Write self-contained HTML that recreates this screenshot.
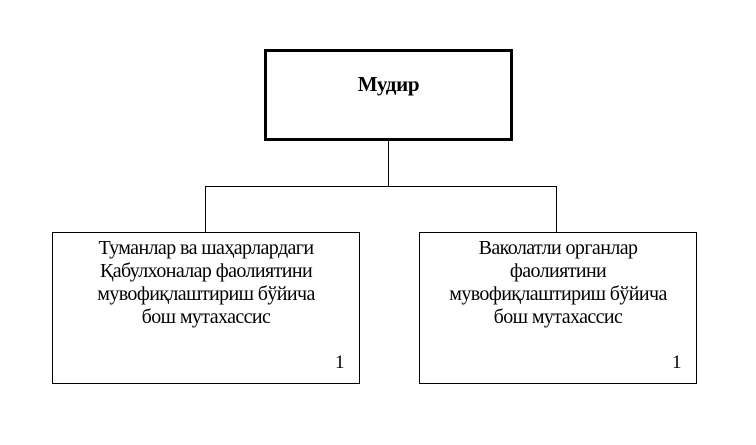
<!DOCTYPE html>
<html><head><style>
body{margin:0;width:756px;height:445px;background:#fff;position:relative;font-family:"Liberation Serif",serif;color:#000;overflow:hidden}
.b{position:absolute;box-sizing:border-box;border:1px solid #000;background:#fff}
.l{position:absolute;background:#000}
.t{position:absolute;text-align:center;font-size:20px;line-height:23px;letter-spacing:-0.6px;white-space:nowrap}
.n{position:absolute;font-size:19px}
</style></head><body>
<div class="b" style="left:264px;top:49px;width:249px;height:92px;border:3px solid #000"></div>
<div class="t" style="left:264px;top:73px;width:249px;font-weight:bold;font-size:21px;letter-spacing:-0.3px">Мудир</div>
<div class="l" style="left:388px;top:141px;width:1px;height:46px"></div>
<div class="l" style="left:205px;top:186px;width:352px;height:1px"></div>
<div class="l" style="left:205px;top:186px;width:1px;height:47px"></div>
<div class="l" style="left:556px;top:186px;width:1px;height:47px"></div>
<div class="b" style="left:52px;top:232px;width:308px;height:152px"></div>
<div class="b" style="left:419px;top:232px;width:278px;height:152px"></div>
<div class="t" style="left:52px;top:237px;width:308px">Туманлар ва шаҳарлардаги<br>Қабулхоналар фаолиятини<br>мувофиқлаштириш бўйича<br>бош мутахассис</div>
<div class="t" style="left:419px;top:237px;width:278px">Ваколатли органлар<br>фаолиятини<br>мувофиқлаштириш бўйича<br>бош мутахассис</div>
<div class="n" style="left:335px;top:352px">1</div>
<div class="n" style="left:672px;top:352px">1</div>
</body></html>
